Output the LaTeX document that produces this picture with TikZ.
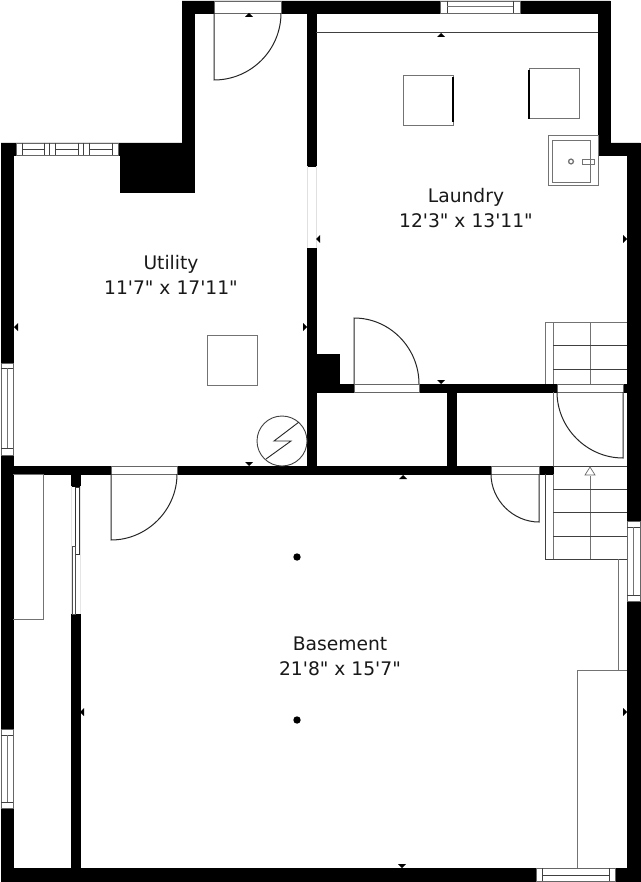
\documentclass[tikz,border=0pt]{standalone}
\usepackage{fontspec}
\newfontfamily\planfont{DejaVu Sans}
\tikzset{
  wall/.style={fill=black,draw=black,line width=0.5pt},
  opening/.style={fill=white,draw=black!60,line width=0.8pt},
  thin/.style={draw=black!75,line width=0.9pt},
  grayline/.style={draw=black!55,line width=1pt},
  leaf/.style={draw=black!85,line width=1pt},
  marker/.style={fill=black,draw=none},
  roomlabel/.style={font=\planfont\fontsize{18.7}{25}\selectfont,align=center,text=black!90,inner sep=0pt},
  bolt/.style={draw=black!85,line width=0.9pt,line join=miter}
}
\begin{document}
\begin{tikzpicture}[x=1pt,y=-1pt]
\useasboundingbox (0,0) rectangle (640,882);
\fill[white] (0,0) rectangle (640,882);
% walls
\path[wall] (1,143) -- (182,143) -- (182,1) -- (610,1) -- (610,143) -- (640,143) -- (640,881) -- (1,881) -- cycle
 (13,155) -- (13,868) -- (627,868) -- (627,155) -- (598,155) -- (598,13) -- (194,13) -- (194,155) -- cycle;
\path[wall] (120,143) rectangle (194,192);
\path[wall] (307,13) rectangle (316,166);
\path[wall] (307,248) rectangle (316,470);
\path[wall] (316,354) rectangle (339,392);
\path[wall] (316,384) rectangle (553,392);
\path[wall] (553,384) rectangle (557,392);
\path[wall] (623,384) rectangle (627,392);
\path[wall] (13,466) rectangle (553,474);
\path[wall] (447,392) rectangle (456,466);
\path[wall] (71,474) rectangle (80,486);
\path[wall] (71,614) rectangle (80,868);
% faint opening
\draw[black!12,line width=0.6pt] (307,166) -- (307,248) (316,166) -- (316,248);
% sliding door
\draw[black!10,line width=0.6pt] (71,486) -- (71,614) (80,486) -- (80,614);
\path[opening,draw=black!80] (75.5,487) rectangle (79,554);
\path[opening,draw=black!70] (72,546) rectangle (75.5,614);
% shelf
\draw[grayline] (13,474) -- (43,474) -- (43,619) -- (13,619);
% ceiling line
\draw[thin] (316,32) -- (598,32);
% door openings
\path[opening] (214,1) rectangle (281,13);
\path[opening] (354,384) rectangle (419,392);
\path[opening] (557,384) rectangle (623,392);
\path[opening] (111,466) rectangle (177,474);
\path[opening] (491,466) rectangle (539,474);
% door leaves
\draw[leaf] (214,13) -- (214,80) .. controls (251,80) and (281,50) .. (281,13);
\draw[leaf] (354,384) -- (354,318) .. controls (390,318) and (419,348) .. (419,384);
\draw[leaf] (623,392) -- (623,458) .. controls (587,458) and (557,428) .. (557,392);
\draw[leaf] (111,474) -- (111,540) .. controls (147,540) and (177,510) .. (177,474);
\draw[leaf] (539,474) -- (539,522) .. controls (513,522) and (491,500) .. (491,474);
% stairs
\draw[grayline] (545,384) -- (545,322) -- (627,322);
\draw[grayline] (553,322) -- (553,384) (553,392) -- (553,466) (553,474) -- (553,559);
\draw[grayline] (590,322) -- (590,384) (590,476) -- (590,559);
\draw[thin] (553,345) -- (627,345) (553,369) -- (627,369);
\draw[thin] (553,466) -- (627,466) (553,489) -- (627,489) (553,512) -- (627,512) (553,536) -- (627,536);
\draw[thin] (545,474) -- (545,559) -- (627,559);
\draw[draw=black!60,fill=white,line width=0.7pt] (590,467) -- (595,475) -- (585,475) -- cycle;
% right lower closet
\draw[grayline] (618,559) -- (618,670);
\draw[grayline] (627,670) -- (577,670) -- (577,868);
% windows
\path[opening] (440,1) rectangle (520,13);
\draw[thin] (447,1) -- (447,13) (513,1) -- (513,13);
\draw[grayline] (447,7) -- (513,7);
\path[opening] (536,868) rectangle (615,881);
\draw[thin] (542,868) -- (542,881) (609,868) -- (609,881);
\draw[thin] (542,875) -- (609,875);
\path[opening] (1,363) rectangle (13,455);
\draw[thin] (1,368) -- (13,368) (1,448) -- (13,448);
\draw[grayline] (7,368) -- (7,448);
\path[opening] (1,729) rectangle (13,808);
\draw[thin] (1,735) -- (13,735) (1,802) -- (13,802);
\draw[grayline] (7,735) -- (7,802);
\path[opening] (627,521) rectangle (640,601);
\draw[thin] (627,527) -- (640,527) (627,595) -- (640,595);
\draw[grayline] (633,527) -- (633,595);
\path[opening] (16,143) rectangle (118,155);
\draw[thin] (22,143) -- (22,155) (44,143) -- (44,155) (49.5,143) -- (49.5,155) (55,143) -- (55,155)
 (78,143) -- (78,155) (83.5,143) -- (83.5,155) (89,143) -- (89,155) (112,143) -- (112,155);
\draw[thin] (22,149) -- (44,149) (55,149) -- (78,149) (89,149) -- (112,149);
% appliances
\draw[grayline] (403,76) rectangle (453,126);
\draw[black,line width=1.3pt] (453,77) -- (453,122);
\draw[grayline] (529,69) rectangle (579,119);
\draw[black,line width=1.3pt] (529,70) -- (529,119);
\draw[grayline] (548,136) rectangle (598,186);
\draw[grayline] (552.5,140.5) rectangle (590,182.5);
\draw[black!55,line width=1.3pt] (571,161.5) circle (2.4);
\draw[black!55,line width=0.9pt] (582,159) rectangle (594,164);
\draw[grayline] (207,335) rectangle (257,385);
% water heater
\draw[fill=white,draw=black!75,line width=0.9pt] (282,441) circle (25);
\draw[bolt] (299,422) -- (274,441) -- (291,441) -- (266,459);
% column dots
\fill[black] (297,557) circle (3.7) (297,720) circle (3.7);
% dimension markers
\path[marker] (249,13) -- (253,17) -- (245,17) -- cycle;
\path[marker] (441,33) -- (445,37) -- (437,37) -- cycle;
\path[marker] (441,384) -- (445,380) -- (437,380) -- cycle;
\path[marker] (249,466) -- (253,462) -- (245,462) -- cycle;
\path[marker] (403,475) -- (407,479) -- (399,479) -- cycle;
\path[marker] (402,868) -- (406,864) -- (398,864) -- cycle;
\path[marker] (14,327) -- (18,323) -- (18,331) -- cycle;
\path[marker] (307,327) -- (303,323) -- (303,331) -- cycle;
\path[marker] (316,239) -- (320,235) -- (320,243) -- cycle;
\path[marker] (627,239) -- (623,235) -- (623,243) -- cycle;
\path[marker] (80,712) -- (84,708) -- (84,716) -- cycle;
\path[marker] (627,712) -- (623,708) -- (623,716) -- cycle;
% labels
\node[roomlabel] (laundry) at (466,208.5) {Laundry\\12'3" x 13'11"};
\node[roomlabel] (utility) at (171,274.5) {Utility\\11'7" x 17'11"};
\node[roomlabel] (basement) at (340,656) {Basement\\21'8" x 15'7"};
\end{tikzpicture}
\end{document}
